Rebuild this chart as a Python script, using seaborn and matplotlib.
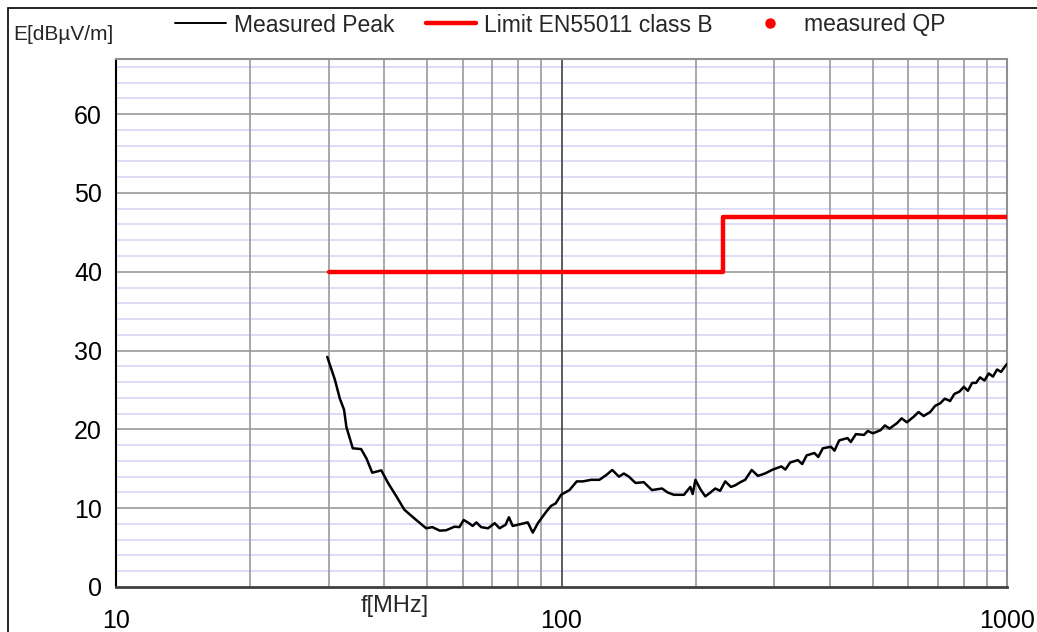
import numpy as np
import pandas as pd
import seaborn as sns
import matplotlib.pyplot as plt
from matplotlib.lines import Line2D
from matplotlib.patches import Rectangle
from matplotlib.ticker import FixedLocator, NullFormatter

# measured peak trace
peak_freq = [29.8, 31.0, 31.8, 32.5, 32.9, 34.0, 35.5, 36.5, 37.6, 39.4,
             40.8, 42.6, 44.4, 47.2, 49.7, 51.3, 53.3, 55.1, 57.5, 59.0,
             60.3, 61.6, 63.2, 64.4, 66.0, 68.4, 70.8, 72.6, 74.9, 76.2,
             77.7, 81.2, 84.0, 86.2, 88.5, 92.4, 94.8, 97.0, 99.8, 104.2,
             108.2, 111.6, 116.6, 121.6, 126.0, 130.0, 134.6, 138.0, 141.7, 146.6,
             153.0, 159.6, 168.2, 173.0, 178.8, 188.3, 194.6, 197.0, 199.8, 205.0,
             210.3, 216.0, 221.4, 227.0, 233.1, 240.0, 245.4, 252.0, 258.4, 267.3,
             276.0, 286.1, 298.0, 311.6, 318.0, 326.0, 339.3, 347.0, 355.0, 369.6,
             377.0, 386.0, 402.6, 410.0, 420.0, 438.5, 446.0, 458.0, 477.6, 487.0,
             500.0, 520.2, 532.0, 545.0, 566.6, 580.0, 596.0, 617.2, 633.0, 650.0,
             672.3, 690.0, 707.7, 725.0, 745.0, 762.0, 782.3, 800.0, 817.0, 835.0,
             852.1, 870.0, 890.0, 910.0, 930.0, 950.0, 970.0, 990.0, 1000.0]
peak_level = [29.2, 26.3, 23.9, 22.5, 20.3, 17.6, 17.5, 16.3, 14.5, 14.8,
              13.2, 11.5, 9.8, 8.5, 7.45, 7.6, 7.15, 7.2, 7.65, 7.6,
              8.5, 8.2, 7.75, 8.2, 7.6, 7.45, 8.1, 7.45, 7.9, 8.85,
              7.75, 8.0, 8.2, 6.9, 8.1, 9.55, 10.3, 10.6, 11.7, 12.3,
              13.4, 13.4, 13.6, 13.6, 14.2, 14.85, 14.0, 14.4, 14.0, 13.2,
              13.3, 12.3, 12.5, 12.0, 11.7, 11.7, 12.7, 11.8, 13.6, 12.4,
              11.5, 12.0, 12.5, 12.2, 13.4, 12.7, 12.9, 13.3, 13.6, 14.85,
              14.1, 14.4, 14.9, 15.3, 14.9, 15.8, 16.1, 15.6, 16.7, 17.0,
              16.5, 17.6, 17.8, 17.3, 18.6, 18.9, 18.4, 19.4, 19.3, 19.8,
              19.5, 19.9, 20.5, 20.1, 20.8, 21.4, 20.9, 21.6, 22.2, 21.7,
              22.2, 23.0, 23.3, 23.9, 23.6, 24.5, 24.8, 25.4, 24.9, 25.9,
              25.9, 26.6, 26.2, 27.1, 26.7, 27.6, 27.3, 28.0, 28.3]

# EN55011 class B limit
limit_freq = [30, 230, 230, 1000]
limit_level = [40, 40, 47, 47]

x_ticks = [10, 100, 1000]
y_ticks = [0, 10, 20, 30, 40, 50, 60]

peak = pd.DataFrame({'f': peak_freq, 'E': peak_level})
limit = pd.DataFrame({'f': limit_freq, 'E': limit_level})

sns.set_style('white')
plt.rcParams['font.family'] = ['Liberation Sans', 'DejaVu Sans']

fig = plt.figure(figsize=(10.37, 6.32), dpi=100)
ax = fig.add_axes([116 / 1037, 1 - 587 / 632, 891 / 1037, 528 / 632])

sns.lineplot(data=limit, x='f', y='E', ax=ax, color='#ff0000', lw=3.2,
             estimator=None, sort=False, zorder=4)
sns.lineplot(data=peak, x='f', y='E', ax=ax, color='black', lw=1.8,
             estimator=None, sort=False, zorder=5)

ax.set_xscale('log')
ax.set_xlim(10, 1000)
ax.set_ylim(0, 67)

# grid
ax.xaxis.set_minor_locator(FixedLocator([k * d for d in (10, 100) for k in range(2, 10)]))
ax.xaxis.set_minor_formatter(NullFormatter())
ax.yaxis.set_minor_locator(FixedLocator([v for v in range(2, 67, 2) if v % 10]))
ax.set_xticks(x_ticks)
ax.set_xticklabels([str(t) for t in x_ticks])
ax.set_yticks(y_ticks)
ax.grid(False)
for v in range(10, 67, 10):
    ax.axhline(v, color='#a0a0a0', lw=1.3, zorder=1)
for v in range(2, 67, 2):
    if v % 10:
        ax.axhline(v, color='#dadaf8', lw=1.3, zorder=0.5)
for d in (10, 100):
    for k in range(2, 10):
        ax.axvline(k * d, color='#999999', lw=1.2, zorder=1)
ax.axvline(100, color='#404040', lw=1.2, zorder=1.5)

ax.tick_params(axis='both', which='minor', length=0)
ax.tick_params(axis='y', which='major', direction='inout', length=12, width=1,
               labelsize=18, pad=4, colors='black')
ax.tick_params(axis='x', which='major', direction='inout', length=14, width=1.2,
               labelsize=18, pad=9, colors='black')

for s in ('top', 'right'):
    ax.spines[s].set_color('#909090')
    ax.spines[s].set_linewidth(1.5)
ax.spines['left'].set_color('black')
ax.spines['left'].set_linewidth(1.5)
ax.spines['bottom'].set_color('#404040')
ax.spines['bottom'].set_linewidth(2)

ax.set_xlabel('')
ax.set_ylabel('')

# axis titles
fig.text(13 / 1037, 1 - 35 / 632, 'E[dBµV/m]', fontsize=15, ha='left', va='center')
fig.text(395 / 1037, 1 - 606 / 632, 'f[MHz]', fontsize=17, ha='center', va='center')

# legend
handles = [Line2D([], [], color='black', lw=1.4),
           Line2D([], [], color='#ff0000', lw=3.2),
           Line2D([], [], color='#ff0000', lw=0, marker='o', markersize=6.5)]
labels = ['Measured Peak', 'Limit EN55011 class B', 'measured QP']
fig.legend(handles, labels, loc='center left', bbox_to_anchor=(166 / 1037, 1 - 25 / 632),
           ncol=3, frameon=False, fontsize=16.5, handlelength=2.2,
           handletextpad=0.35, columnspacing=1.4, borderaxespad=0)

# outer frame
fig.add_artist(Rectangle((8 / 1037, -0.05), 1.1, 1 - 8 / 632 + 0.05,
                         transform=fig.transFigure, fill=False,
                         edgecolor='black', lw=1.2))

fig.savefig('out.png', dpi=100)
